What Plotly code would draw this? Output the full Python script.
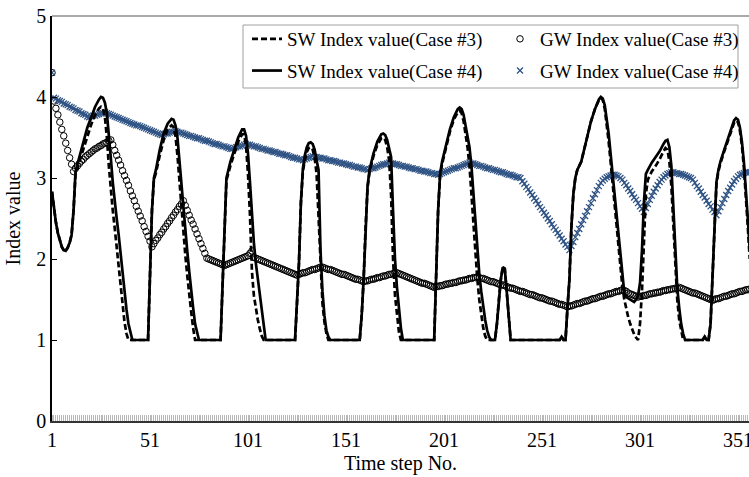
import plotly.graph_objects as go

# Time steps for the groundwater (GW) index series, one marker per step
steps = list(range(1, 358))

# GW index value, Case #3 (open circles)
gw_case3 = [
    4.30, 3.95, 3.86, 3.78, 3.69, 3.60, 3.52, 3.43, 3.34, 3.25,
    3.17, 3.08, 3.12, 3.15, 3.18, 3.21, 3.23, 3.26, 3.28, 3.30,
    3.32, 3.34, 3.36, 3.37, 3.39, 3.40, 3.42, 3.43, 3.44, 3.46,
    3.47, 3.41, 3.34, 3.28, 3.22, 3.16, 3.09, 3.03, 2.97, 2.91,
    2.84, 2.78, 2.72, 2.65, 2.59, 2.53, 2.47, 2.40, 2.34, 2.28,
    2.22, 2.15, 2.19, 2.23, 2.26, 2.30, 2.33, 2.37, 2.40, 2.44,
    2.47, 2.51, 2.54, 2.58, 2.61, 2.65, 2.68, 2.72, 2.66, 2.60,
    2.54, 2.48, 2.43, 2.37, 2.31, 2.25, 2.19, 2.13, 2.07, 2.01,
    2.00, 1.99, 1.98, 1.97, 1.96, 1.95, 1.94, 1.93, 1.92, 1.93,
    1.94, 1.95, 1.96, 1.97, 1.98, 1.99, 2.00, 2.01, 2.02, 2.03,
    2.04, 2.07, 2.10, 2.02, 2.01, 2.00, 1.99, 1.98, 1.97, 1.96,
    1.95, 1.94, 1.93, 1.92, 1.91, 1.90, 1.89, 1.88, 1.87, 1.86,
    1.85, 1.84, 1.83, 1.82, 1.81, 1.80, 1.81, 1.82, 1.83, 1.83,
    1.84, 1.85, 1.86, 1.87, 1.87, 1.88, 1.89, 1.90, 1.90, 1.89,
    1.88, 1.87, 1.87, 1.86, 1.85, 1.84, 1.83, 1.82, 1.81, 1.81,
    1.80, 1.79, 1.78, 1.77, 1.76, 1.75, 1.75, 1.74, 1.73, 1.72,
    1.73, 1.73, 1.74, 1.75, 1.75, 1.76, 1.77, 1.77, 1.78, 1.79,
    1.79, 1.80, 1.81, 1.81, 1.82, 1.82, 1.83, 1.82, 1.81, 1.80,
    1.79, 1.78, 1.77, 1.76, 1.75, 1.74, 1.73, 1.72, 1.71, 1.70,
    1.70, 1.69, 1.68, 1.67, 1.66, 1.65, 1.66, 1.66, 1.67, 1.67,
    1.68, 1.69, 1.69, 1.70, 1.70, 1.71, 1.71, 1.72, 1.73, 1.73,
    1.74, 1.74, 1.75, 1.76, 1.76, 1.77, 1.77, 1.78, 1.77, 1.76,
    1.76, 1.75, 1.74, 1.73, 1.72, 1.72, 1.71, 1.70, 1.69, 1.68,
    1.68, 1.67, 1.66, 1.65, 1.64, 1.64, 1.63, 1.62, 1.61, 1.60,
    1.60, 1.59, 1.58, 1.57, 1.56, 1.56, 1.55, 1.54, 1.53, 1.52,
    1.52, 1.51, 1.50, 1.49, 1.48, 1.48, 1.47, 1.46, 1.45, 1.44,
    1.44, 1.43, 1.42, 1.41, 1.42, 1.42, 1.43, 1.44, 1.45, 1.45,
    1.46, 1.47, 1.48, 1.48, 1.49, 1.50, 1.51, 1.51, 1.52, 1.53,
    1.54, 1.54, 1.55, 1.56, 1.57, 1.57, 1.58, 1.59, 1.60, 1.60,
    1.61, 1.62, 1.61, 1.60, 1.58, 1.57, 1.56, 1.55, 1.54, 1.53,
    1.54, 1.54, 1.55, 1.55, 1.56, 1.57, 1.57, 1.58, 1.58, 1.59,
    1.59, 1.60, 1.61, 1.61, 1.62, 1.62, 1.63, 1.63, 1.64, 1.64,
    1.65, 1.64, 1.63, 1.62, 1.61, 1.60, 1.59, 1.58, 1.58, 1.57,
    1.56, 1.55, 1.54, 1.53, 1.52, 1.51, 1.50, 1.49, 1.50, 1.51,
    1.51, 1.52, 1.53, 1.54, 1.54, 1.55, 1.56, 1.57, 1.57, 1.58,
    1.59, 1.60, 1.60, 1.61, 1.62, 1.62, 1.63,
]

# GW index value, Case #4 (blue crosses)
gw_case4 = [
    4.30, 3.99, 3.98, 3.96, 3.95, 3.94, 3.92, 3.91, 3.90, 3.88,
    3.87, 3.86, 3.84, 3.83, 3.82, 3.80, 3.79, 3.78, 3.76, 3.75,
    3.76, 3.77, 3.77, 3.78, 3.79, 3.80, 3.80, 3.81, 3.80, 3.79,
    3.78, 3.77, 3.76, 3.75, 3.74, 3.73, 3.72, 3.71, 3.70, 3.69,
    3.68, 3.67, 3.66, 3.65, 3.65, 3.64, 3.63, 3.62, 3.61, 3.60,
    3.59, 3.58, 3.57, 3.56, 3.55, 3.54, 3.53, 3.54, 3.55, 3.55,
    3.56, 3.57, 3.57, 3.58, 3.57, 3.56, 3.56, 3.55, 3.54, 3.53,
    3.52, 3.52, 3.51, 3.50, 3.49, 3.49, 3.48, 3.47, 3.46, 3.46,
    3.45, 3.44, 3.43, 3.42, 3.42, 3.41, 3.40, 3.39, 3.39, 3.38,
    3.37, 3.36, 3.36, 3.37, 3.38, 3.39, 3.39, 3.40, 3.41, 3.42,
    3.41, 3.41, 3.40, 3.39, 3.39, 3.38, 3.37, 3.36, 3.36, 3.35,
    3.34, 3.34, 3.33, 3.32, 3.32, 3.31, 3.30, 3.30, 3.29, 3.28,
    3.28, 3.27, 3.26, 3.25, 3.25, 3.24, 3.23, 3.23, 3.22, 3.23,
    3.24, 3.25, 3.26, 3.27, 3.26, 3.26, 3.25, 3.25, 3.24, 3.24,
    3.23, 3.22, 3.22, 3.21, 3.21, 3.20, 3.19, 3.19, 3.18, 3.18,
    3.17, 3.16, 3.16, 3.15, 3.14, 3.14, 3.13, 3.13, 3.12, 3.11,
    3.11, 3.10, 3.11, 3.12, 3.12, 3.13, 3.14, 3.15, 3.16, 3.17,
    3.17, 3.18, 3.19, 3.18, 3.18, 3.17, 3.17, 3.16, 3.15, 3.15,
    3.14, 3.14, 3.13, 3.12, 3.12, 3.11, 3.11, 3.10, 3.09, 3.09,
    3.08, 3.08, 3.07, 3.06, 3.06, 3.05, 3.05, 3.04, 3.05, 3.06,
    3.07, 3.08, 3.09, 3.10, 3.11, 3.12, 3.12, 3.13, 3.14, 3.15,
    3.16, 3.17, 3.18, 3.19, 3.18, 3.18, 3.17, 3.16, 3.15, 3.15,
    3.14, 3.13, 3.12, 3.12, 3.11, 3.10, 3.10, 3.09, 3.08, 3.07,
    3.07, 3.06, 3.05, 3.04, 3.04, 3.03, 3.02, 3.01, 3.01, 3.00,
    2.96, 2.93, 2.89, 2.86, 2.82, 2.79, 2.75, 2.72, 2.68, 2.64,
    2.61, 2.57, 2.54, 2.50, 2.47, 2.43, 2.39, 2.36, 2.32, 2.29,
    2.25, 2.22, 2.18, 2.15, 2.11, 2.16, 2.21, 2.27, 2.32, 2.37,
    2.43, 2.48, 2.53, 2.59, 2.64, 2.69, 2.75, 2.80, 2.85, 2.90,
    2.94, 2.97, 2.99, 3.01, 3.02, 3.03, 3.04, 3.04, 3.03, 3.02,
    3.00, 2.98, 2.94, 2.91, 2.87, 2.84, 2.80, 2.76, 2.73, 2.69,
    2.65, 2.62, 2.58, 2.63, 2.68, 2.73, 2.78, 2.83, 2.87, 2.91,
    2.95, 2.98, 3.01, 3.03, 3.05, 3.06, 3.07, 3.07, 3.06, 3.06,
    3.05, 3.05, 3.04, 3.03, 3.02, 3.01, 3.00, 2.98, 2.94, 2.90,
    2.87, 2.83, 2.79, 2.76, 2.72, 2.68, 2.65, 2.61, 2.58, 2.54,
    2.59, 2.64, 2.69, 2.74, 2.79, 2.84, 2.88, 2.92, 2.96, 2.99,
    3.02, 3.04, 3.05, 3.06, 3.07, 3.07, 3.07,
]

# SW index value, Case #3 (dashed line): break-point steps and values
sw_case3_steps = [
    1, 2, 3, 4, 5, 6, 7, 8, 9, 10, 11, 12,
    13, 15, 17, 19, 21, 23, 25, 26, 27, 28, 29, 30, 31, 32, 33, 34, 35, 36, 37, 38, 39, 40,
    50, 51, 52, 53, 54, 56, 58, 60, 62, 63, 64, 65, 66, 67, 68, 69, 70, 71, 72, 73, 74,
    87, 88, 89, 90, 92, 94, 96, 98, 99, 100, 101, 102, 103, 104, 105, 106, 107, 108, 109,
    125, 126, 127, 128, 129, 130, 131, 132, 133, 134, 135, 136, 137, 138, 139, 140, 141, 142,
    158, 159, 160, 161, 162, 163, 165, 167, 169, 170, 171, 172, 173, 174, 175, 176, 177, 178, 179,
    196, 197, 198, 199, 200, 202, 204, 206, 208, 209, 210, 211, 212, 213, 214, 215, 216, 217,
    218, 219, 220, 221, 222, 223,
    227, 228, 229, 230, 231, 232, 233, 234, 235,
    260, 261, 262, 263, 264, 265, 266, 267, 268, 269, 271, 272, 274, 276, 278, 280, 281, 282,
    283, 284, 285, 286, 287, 288, 289, 290, 291, 292, 293, 294, 295, 296, 297, 298, 299, 300,
    301, 302, 303, 304, 305, 307, 309, 311, 313, 314, 315, 316, 317, 318, 319, 320, 321, 322, 323,
    333, 334, 335, 336, 337, 338, 339, 340, 341, 342, 344, 346, 348, 349, 350, 351, 352, 353,
    354, 355, 356, 357,
]
sw_case3_values = [
    2.83, 2.62, 2.45, 2.32, 2.22, 2.15, 2.11, 2.10, 2.14, 2.20, 2.30, 2.60,
    3.05, 3.20, 3.38, 3.53, 3.66, 3.78, 3.86, 3.88, 3.86, 3.75, 3.50, 3.15, 2.85, 2.60, 2.38, 2.15, 1.90, 1.65, 1.42, 1.22, 1.08, 1.00,
    1.00, 1.80, 2.60, 2.98, 3.06, 3.28, 3.47, 3.60, 3.65, 3.63, 3.52, 3.28, 2.95, 2.62, 2.32, 2.05, 1.80, 1.55, 1.35, 1.15, 1.00,
    1.00, 1.70, 2.50, 2.97, 3.15, 3.30, 3.45, 3.54, 3.54, 3.40, 3.05, 2.55, 1.85, 1.55, 1.38, 1.25, 1.14, 1.05, 1.00,
    1.00, 1.45, 1.95, 2.70, 3.08, 3.22, 3.32, 3.37, 3.38, 3.35, 3.25, 3.05, 2.50, 1.80, 1.45, 1.22, 1.08, 1.00,
    1.00, 1.30, 1.75, 2.40, 2.88, 3.07, 3.27, 3.41, 3.49, 3.50, 3.47, 3.38, 3.22, 2.80, 2.00, 1.55, 1.28, 1.10, 1.00,
    1.00, 1.80, 2.60, 3.03, 3.17, 3.37, 3.57, 3.72, 3.81, 3.83, 3.80, 3.70, 3.55, 3.38, 3.15, 2.80, 2.40, 2.05,
    1.75, 1.50, 1.30, 1.15, 1.05, 1.00,
    1.00, 1.20, 1.50, 1.75, 1.90, 1.88, 1.60, 1.25, 1.00,
    1.00, 1.04, 1.00, 1.00, 1.40, 1.75, 2.40, 2.80, 3.00, 3.10, 3.20, 3.30, 3.50, 3.70, 3.85, 3.96, 3.99, 3.96,
    3.86, 3.68, 3.45, 3.20, 2.95, 2.70, 2.42, 2.15, 1.90, 1.66, 1.50, 1.38, 1.28, 1.20, 1.13, 1.07, 1.03, 1.00,
    1.20, 1.60, 2.20, 2.80, 2.98, 3.08, 3.15, 3.23, 3.33, 3.37, 3.35, 3.20, 2.90, 2.40, 1.85, 1.50, 1.25, 1.10, 1.00,
    1.00, 1.04, 1.00, 1.00, 1.20, 1.75, 2.50, 2.93, 3.08, 3.18, 3.33, 3.48, 3.62, 3.68, 3.71, 3.69, 3.58, 3.40,
    3.13, 2.82, 2.40, 2.00,
]

# SW index value, Case #4 (solid line): break-point steps and values
sw_case4_steps = [
    1, 2, 3, 4, 5, 6, 7, 8, 9, 10, 11, 12,
    13, 14, 15, 17, 19, 21, 23, 25, 26, 27, 28, 29, 30, 31, 32, 33, 34, 35, 36, 37, 38, 39, 40, 41, 42,
    50, 51, 52, 53, 54, 56, 58, 60, 62, 63, 64, 65, 66, 67, 68, 69, 70, 71, 72, 73, 74, 75, 76,
    87, 88, 89, 90, 92, 94, 96, 98, 99, 100, 101, 102, 103, 104, 105, 106, 107, 108, 109, 110,
    125, 126, 127, 128, 129, 130, 131, 132, 133, 134, 135, 136, 137, 138, 139, 140, 141, 142, 143,
    158, 159, 160, 161, 162, 163, 165, 167, 169, 170, 171, 172, 173, 174, 175, 176, 177, 178, 179, 180,
    196, 197, 198, 199, 200, 202, 204, 206, 208, 209, 210, 211, 212, 213, 214, 215, 216, 217, 218,
    219, 220, 221, 222, 223, 224, 225,
    227, 228, 229, 230, 231, 232, 233, 234, 235,
    260, 261, 262, 263, 264, 265, 266, 267, 268, 269, 271, 272, 274, 276, 278, 280, 281, 282,
    283, 284, 285, 286, 287, 288, 289, 290, 291, 292, 293, 294, 296, 298, 299, 300, 301, 302,
    303, 304, 305, 307, 309, 311, 313, 314, 315, 316, 317, 318, 319, 320, 321, 322, 323, 324,
    333, 334, 335, 336, 337, 338, 339, 340, 341, 342, 344, 346, 348, 349, 350, 351, 352, 353,
    354, 355, 356, 357,
]
sw_case4_values = [
    2.83, 2.62, 2.45, 2.32, 2.22, 2.15, 2.11, 2.10, 2.14, 2.20, 2.30, 2.60,
    3.08, 3.17, 3.27, 3.47, 3.62, 3.75, 3.88, 3.97, 4.00, 3.99, 3.93, 3.80, 3.55, 3.25, 2.95, 2.70, 2.50, 2.30, 2.05, 1.80, 1.58, 1.38, 1.20, 1.08, 1.00,
    1.00, 1.80, 2.60, 3.00, 3.10, 3.35, 3.55, 3.67, 3.73, 3.72, 3.65, 3.50, 3.20, 2.90, 2.60, 2.35, 2.10, 1.85, 1.60, 1.40, 1.20, 1.08, 1.00,
    1.00, 1.70, 2.50, 3.00, 3.20, 3.35, 3.50, 3.60, 3.60, 3.52, 3.30, 2.95, 2.55, 2.20, 1.95, 1.75, 1.55, 1.35, 1.15, 1.00,
    1.00, 1.45, 1.95, 2.70, 3.12, 3.28, 3.38, 3.43, 3.44, 3.42, 3.35, 3.22, 3.10, 2.10, 1.60, 1.30, 1.12, 1.04, 1.00,
    1.00, 1.30, 1.75, 2.40, 2.90, 3.10, 3.30, 3.45, 3.54, 3.55, 3.53, 3.47, 3.38, 3.26, 2.60, 2.00, 1.65, 1.35, 1.15, 1.00,
    1.00, 1.80, 2.60, 3.05, 3.20, 3.40, 3.60, 3.75, 3.85, 3.87, 3.85, 3.78, 3.65, 3.52, 3.38, 3.15, 2.80, 2.45, 2.10,
    1.82, 1.60, 1.40, 1.25, 1.12, 1.04, 1.00,
    1.00, 1.20, 1.50, 1.75, 1.90, 1.88, 1.60, 1.25, 1.00,
    1.00, 1.04, 1.00, 1.00, 1.40, 1.75, 2.40, 2.80, 3.00, 3.10, 3.20, 3.30, 3.50, 3.70, 3.85, 3.97, 4.00, 3.98,
    3.90, 3.75, 3.55, 3.30, 3.06, 2.80, 2.50, 2.25, 2.05, 1.80, 1.58, 1.53, 1.50, 1.47, 1.50, 1.55, 1.70, 2.10,
    2.70, 3.05, 3.10, 3.19, 3.26, 3.33, 3.42, 3.46, 3.47, 3.38, 3.15, 2.65, 2.00, 1.65, 1.40, 1.20, 1.08, 1.00,
    1.00, 1.04, 1.00, 1.00, 1.20, 1.75, 2.50, 2.95, 3.10, 3.20, 3.35, 3.50, 3.65, 3.71, 3.74, 3.72, 3.62, 3.45,
    3.20, 2.90, 2.50, 2.10,
]

# Axis tick labels
x_tick_vals = [1, 51, 101, 151, 201, 251, 301, 351]
x_tick_text = ["1", "51", "101", "151", "201", "251", "301", "351"]
y_tick_vals = [0, 1, 2, 3, 4, 5]

FONT = "Liberation Serif"
W, H = 749, 477
M_L, M_R, M_T, M_B = 52, 0, 16, 56
PW, PH = W - M_L - M_R, H - M_T - M_B


def px_x(px):
    return (px - M_L) / PW


def px_y(py):
    return (H - M_B - py) / PH


fig = go.Figure()

fig.add_trace(go.Scatter(
    x=steps, y=gw_case3, mode="markers", name="GW Index value(Case #3)",
    legend="legend2", legendgroup="g3", legendrank=1,
    marker=dict(symbol="circle-open", size=6.5, color="black", line=dict(width=1)),
))
fig.add_trace(go.Scatter(
    x=steps, y=gw_case4, mode="markers", name="GW Index value(Case #4)",
    legend="legend2", legendgroup="g4", legendrank=2,
    marker=dict(symbol="x-thin", size=6, color="#2f5384", line=dict(width=1.3, color="#2f5384")),
))
fig.add_trace(go.Scatter(
    x=sw_case4_steps, y=sw_case4_values, mode="lines", name="SW Index value(Case #4)",
    legend="legend", legendgroup="s4", legendrank=2,
    line=dict(color="black", width=2.7),
))
fig.add_trace(go.Scatter(
    x=sw_case3_steps, y=sw_case3_values, mode="lines", name="SW Index value(Case #3)",
    legend="legend", legendgroup="s3", legendrank=1,
    line=dict(color="black", width=2.7, dash="6px,3px"),
))

legend_common = dict(
    xanchor="left", yanchor="top", bgcolor="rgba(0,0,0,0)",
    font=dict(family=FONT, size=19, color="black"),
    tracegroupgap=4, traceorder="grouped",
)

fig.update_layout(
    width=W, height=H,
    margin=dict(l=M_L, r=M_R, t=M_T, b=M_B, autoexpand=False),
    paper_bgcolor="white", plot_bgcolor="white",
    font=dict(family=FONT, size=20, color="black"),
    legend=dict(x=px_x(247), y=px_y(20), **legend_common),
    legend2=dict(x=px_x(500), y=px_y(20), **legend_common),
    xaxis=dict(
        range=[1, 1 + PW / 1.96], tickmode="array", tickvals=x_tick_vals, ticktext=x_tick_text,
        ticks="", showline=True, linecolor="#333333", linewidth=1.5,
        showgrid=False, zeroline=False, ticklabeloverflow="allow",
        minor=dict(tickmode="linear", tick0=1, dtick=1, ticks="inside", ticklen=6,
                   tickcolor="#b8b8b8", tickwidth=1, showgrid=False),
        title=dict(text="Time step No.", font=dict(family=FONT, size=20), standoff=6),
        tickfont=dict(family=FONT, size=20),
    ),
    yaxis=dict(
        range=[0, 5], tickmode="array", tickvals=y_tick_vals,
        ticks="inside", ticklen=5, tickcolor="black",
        showline=True, linecolor="black", linewidth=1.5,
        showgrid=False, zeroline=False,
        title=dict(text="Index value", font=dict(family=FONT, size=20), standoff=10),
        tickfont=dict(family=FONT, size=20),
    ),
    shapes=[
        dict(type="line", xref="paper", yref="paper", x0=0, x1=1, y0=1, y1=1,
             line=dict(color="#8c8c8c", width=1.5)),
        dict(type="rect", xref="paper", yref="paper",
             x0=px_x(243), x1=px_x(738), y0=px_y(88), y1=px_y(25),
             line=dict(color="#a0a0a0", width=1)),
    ],
)

fig.write_html("out.html")
